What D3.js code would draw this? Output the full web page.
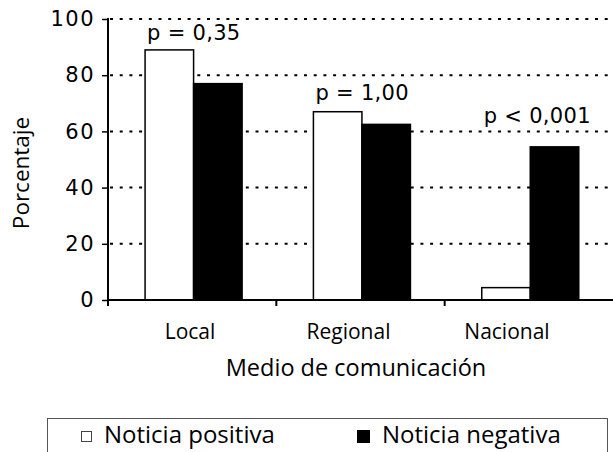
<!DOCTYPE html>
<html>
<head>
<meta charset="utf-8">
<script src="https://cdn.jsdelivr.net/npm/d3@7"></script>
<style>
  html, body { margin: 0; padding: 0; background: #fff; }
  svg text { font-family: "Open Sans", sans-serif; fill: #000; }
</style>
</head>
<body>
<svg id="chart" width="613" height="452"></svg>
<script>
// ---------- data ----------
const categories = ['Local', 'Regional', 'Nacional'];
const seriesNames = ['Noticia positiva', 'Noticia negativa'];
const positiva = [89, 67, 4.4];
const negativa = [77, 62.5, 54.5];
const pLabels = ['p = 0,35', 'p = 1,00', 'p < 0,001'];
const pLabelAt = [92.5, 71.2, 63]; // height of each p label, in %
const yTicks = [0, 20, 40, 60, 80, 100];

(function () {
  // ---------- layout ----------
  const svg = d3.select('#chart');
  const mLeft = 108, mRight = 613, mTop = 19, mBottom = 300;

  const x = d3.scaleBand().domain(categories).range([mLeft, mRight]).padding(0);
  const x1 = d3.scaleBand().domain(seriesNames)
    .range([0, x.bandwidth()]).paddingInner(0).paddingOuter(0.735).align(0.52);
  const y = d3.scaleLinear().domain([0, 100]).range([mBottom, mTop]);
  // category labels sit a little off the band centres in the original
  const xLab = d3.scalePoint().domain(categories).range([190, 507]);

  // ---------- grid ----------
  svg.append('g')
    .selectAll('line')
    .data(yTicks.filter(d => d > 0))
    .join('line')
    .attr('x1', mLeft + 2).attr('x2', mRight)
    .attr('y1', d => y(d)).attr('y2', d => y(d))
    .attr('stroke', '#000')
    .attr('stroke-width', 2)
    .attr('stroke-dasharray', '3 6.7');

  // ---------- bars ----------
  const rows = categories.map((c, i) => ({ c, vals: [positiva[i], negativa[i]] }));
  const grp = svg.append('g')
    .selectAll('g')
    .data(rows)
    .join('g')
    .attr('transform', d => `translate(${x(d.c)},0)`);

  grp.selectAll('rect')
    .data(d => d.vals.map((v, j) => ({ s: seriesNames[j], v })))
    .join('rect')
    .attr('x', d => x1(d.s))
    .attr('width', x1.bandwidth())
    .attr('y', d => y(d.v))
    .attr('height', d => y(0) - y(d.v))
    .attr('fill', (d, j) => j === 0 ? '#fff' : '#000')
    .attr('stroke', '#000')
    .attr('stroke-width', 1.5);

  // ---------- p labels ----------
  svg.append('g')
    .selectAll('text')
    .data(categories)
    .join('text')
    .attr('x', c => x(c) + x1(seriesNames[0]) + 2)
    .attr('y', (c, i) => y(pLabelAt[i]))
    .style('font-family', '"DejaVu Sans", sans-serif')
    .style('font-size', '21px')
    .style('letter-spacing', '0.3px')
    .text((c, i) => pLabels[i]);

  // ---------- axes ----------
  const yAxis = d3.axisLeft(y).tickValues(yTicks).tickSize(6).tickPadding(7).tickSizeOuter(0);
  const gy = svg.append('g').attr('transform', `translate(${mLeft},0)`).call(yAxis);
  gy.select('.domain').attr('stroke-width', 2).attr('d', `M0,${mTop - 1}V${mBottom + 6}`);
  gy.selectAll('.tick line').attr('stroke-width', 1.5);
  gy.selectAll('.tick text')
    .style('font-family', '"DejaVu Sans", sans-serif')
    .style('font-size', '21px')
    .style('letter-spacing', '1.5px')
    .attr('fill', '#000');

  // x axis line and separators between the groups
  svg.append('line')
    .attr('x1', mLeft).attr('x2', mRight)
    .attr('y1', y(0)).attr('y2', y(0))
    .attr('stroke', '#000').attr('stroke-width', 2);
  svg.append('g')
    .selectAll('line')
    .data(categories.slice(1))
    .join('line')
    .attr('x1', c => x(c)).attr('x2', c => x(c))
    .attr('y1', y(0)).attr('y2', y(0) + 6)
    .attr('stroke', '#000').attr('stroke-width', 2);

  svg.append('g')
    .selectAll('text')
    .data(categories)
    .join('text')
    .attr('x', c => xLab(c))
    .attr('y', 339)
    .attr('text-anchor', 'middle')
    .style('font-size', '21px')
    .text(c => c);

  // axis titles
  svg.append('text')
    .attr('transform', 'translate(29,173) rotate(-90)')
    .attr('text-anchor', 'middle')
    .style('font-size', '22.5px')
    .text('Porcentaje');

  svg.append('text')
    .attr('x', 356).attr('y', 376)
    .attr('text-anchor', 'middle')
    .style('font-size', '23.5px')
    .text('Medio de comunicación');

  // ---------- legend ----------
  const lg = svg.append('g');
  lg.append('rect')
    .attr('x', 47.5).attr('y', 418.5)
    .attr('width', 560).attr('height', 60)
    .attr('fill', 'none').attr('stroke', '#555').attr('stroke-width', 1);

  const legendItems = [
    { name: seriesNames[0], sx: 81, sy: 431, size: 10, fill: '#fff', stroke: '#444', tx: 104 },
    { name: seriesNames[1], sx: 357, sy: 430, size: 12, fill: '#000', stroke: '#000', tx: 382 }
  ];
  legendItems.forEach(it => {
    lg.append('rect')
      .attr('x', it.sx + 0.5).attr('y', it.sy + 0.5)
      .attr('width', it.size).attr('height', it.size)
      .attr('fill', it.fill).attr('stroke', it.stroke).attr('stroke-width', 1);
    lg.append('text')
      .attr('x', it.tx).attr('y', 443)
      .style('font-size', '24px')
      .text(it.name);
  });
})();
</script>
</body>
</html>
